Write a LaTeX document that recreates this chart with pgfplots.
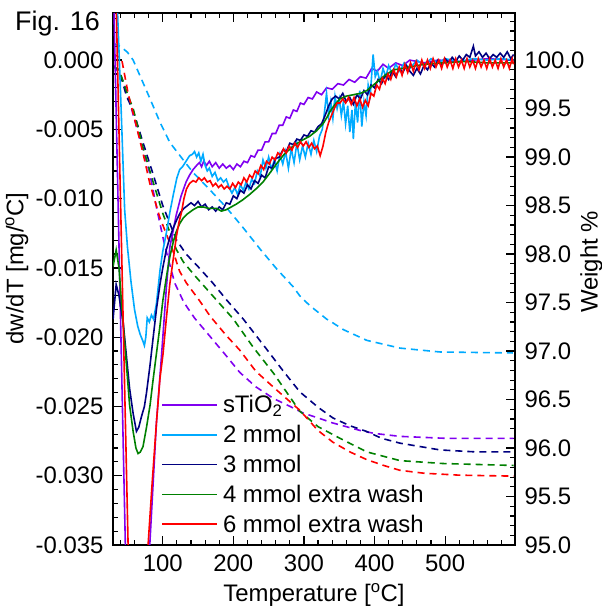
\documentclass[border=0pt]{standalone}
\usepackage{pgfplots}
\pgfplotsset{compat=1.18}
\usepackage{fontspec}
\setmainfont{Liberation Sans}
\newcommand\lf{\fontsize{24}{28}\selectfont}
\definecolor{cpur}{RGB}{128,0,240}
\definecolor{cblu}{RGB}{0,170,255}
\definecolor{cnav}{RGB}{0,0,128}
\definecolor{cgrn}{RGB}{0,128,0}
\definecolor{cred}{RGB}{255,0,0}
\begin{document}
\begin{tikzpicture}
\path[use as bounding box] (0,0) rectangle (602bp,609bp);
\node[anchor=base west, inner sep=0pt, font=\fontsize{27}{32}\selectfont] at (15bp,578bp) {Fig. 16};
% ---------- right axis: weight (dashed) ----------
\begin{axis}[
  at={(113bp,64bp)}, anchor=south west, scale only axis,
  width=402bp, height=532bp,
  xmin=29.5, xmax=599, ymin=95, ymax=100.485,
  scaled x ticks=false, scaled y ticks=false,
  hide x axis, axis y line*=right,
  ytick={95,95.5,96,96.5,97,97.5,98,98.5,99,99.5,100},
  yticklabels={95.0,95.5,96.0,96.5,97.0,97.5,98.0,98.5,99.0,99.5,100.0},
  minor ytick={95.1,95.2,...,100.45},
  tick align=inside, major tick length=9bp, minor tick length=5bp,
  every tick/.style={black, line width=1.2bp},
  axis line style={line width=1.5bp},
  yticklabel style={font=\lf, xshift=6bp},
  ylabel={Weight \%},
  ylabel style={font=\lf, at={(axis description cs:1.19,0.532)}, anchor=center},
  every axis plot/.append style={line width=1.6bp, dash pattern=on 7bp off 5bp},
]
\addplot[cpur] coordinates {(30,99.95)(42,99.82)(53,99.57)(67,99.2)(81,98.85)(92,98.45)(103,98.08)(117,97.7)(130,97.5)(145,97.34)(167,97.15)(190,96.95)(209,96.78)(232,96.63)(257,96.51)(280,96.43)(299,96.36)(320,96.31)(340,96.26)(360,96.22)(380,96.18)(400,96.15)(436,96.12)(500,96.10)(597,96.10)};
\addplot[cblu] coordinates {(30,100.17)(40,100.14)(50,100.08)(58,100.0)(70,99.8)(82,99.6)(96,99.36)(110,99.15)(129,98.97)(143,98.84)(167,98.66)(190,98.48)(214,98.27)(238,98.05)(261,97.85)(285,97.66)(294,97.57)(308,97.47)(332,97.33)(341,97.29)(356,97.22)(389,97.11)(436,97.03)(493,96.99)(596,96.98)};
\addplot[cnav] coordinates {(30,99.93)(38,99.9)(49,99.62)(58,99.48)(72,99.15)(86,98.83)(100,98.5)(119,98.15)(133,98.0)(150,97.87)(171,97.70)(190,97.53)(214,97.33)(247,97.02)(270,96.8)(294,96.58)(320,96.42)(341,96.31)(365,96.23)(389,96.17)(410,96.1)(436,96.05)(493,95.98)(543,95.96)(597,95.96)};
\addplot[cgrn] coordinates {(30,99.93)(38,99.9)(50,99.65)(58,99.5)(72,99.1)(86,98.75)(100,98.42)(119,98.05)(129,97.92)(145,97.78)(167,97.6)(200,97.33)(228,97.04)(257,96.77)(294,96.38)(320,96.22)(351,96.10)(389,95.96)(436,95.87)(497,95.84)(597,95.82)};
\addplot[cred] coordinates {(30,100.06)(41.5,100.02)(50.8,99.66)(60.5,99.38)(72,99.04)(81.6,98.73)(95.7,98.38)(114,98.04)(124,97.82)(133.6,97.70)(152,97.52)(167,97.36)(190,97.16)(209,97.01)(232,96.79)(261,96.60)(294,96.39)(320,96.18)(341,96.06)(365,95.96)(389,95.88)(413,95.82)(436,95.77)(470,95.74)(520,95.72)(597,95.71)};
\end{axis}
% ---------- left axis: dw/dT (solid) ----------
\begin{axis}[
  at={(113bp,64bp)}, anchor=south west, scale only axis,
  width=402bp, height=532bp,
  xmin=29.5, xmax=599, ymin=-0.035, ymax=0.0034,
  scaled x ticks=false, scaled y ticks=false,
  unbounded coords=jump,
  xtick={100,200,300,400,500}, xticklabels={100,200,300,400,500},
  minor xtick={40,60,...,580},
  ytick={-0.035,-0.03,-0.025,-0.02,-0.015,-0.01,-0.005,0},
  yticklabels={-0.035,-0.030,-0.025,-0.020,-0.015,-0.010,-0.005,0.000},
  minor ytick={-0.034,-0.033,...,0.0031},
  ytick pos=left,
  tick align=inside, major tick length=9bp, minor tick length=5bp,
  every tick/.style={black, line width=1.2bp},
  axis line style={line width=1.5bp},
  xticklabel style={font=\lf, yshift=-6bp},
  yticklabel style={font=\lf, xshift=-6bp},
  xlabel={Temperature [\textsuperscript{o}C]},
  xlabel style={font=\lf, at={(axis description cs:0.5,-0.094)}, anchor=center},
  ylabel={dw/dT [mg/\textsuperscript{o}C]},
  ylabel style={font=\lf, at={(axis description cs:-0.239,0.52)}, anchor=center},
  every axis plot/.append style={line width=1.6bp},
  legend style={at={(axis description cs:0.12,0.285)}, anchor=north west,
    draw=none, fill=none, font=\lf, row sep=7bp, inner sep=0pt,
    /tikz/every odd column/.append style={column sep=3bp}},
  legend cell align=left,
]
\addplot[cpur, forget plot] coordinates {(31,0.0034)(47,-0.035)(nan,nan)(81.6,-0.035)(91,-0.0262)(98,-0.0215)(105,-0.0165)(110,-0.0135)(119,-0.0112)(126,-0.0098)(133,-0.0088)(138,-0.0083)(143,-0.0079)(148,-0.0076)(152,-0.0074)(155,-0.0077)(158,-0.0073)(162,-0.0076)(166,-0.0073)(170,-0.0077)(175,-0.0074)(180,-0.0078)(185,-0.0075)(190,-0.0078)(195,-0.0076)(200,-0.0079)(205,-0.0075)(210,-0.0077)(215,-0.0073)(220,-0.0074)(225,-0.0069)(230,-0.0070)(235,-0.0065)(240,-0.0065)(245,-0.0059)(250,-0.0059)(255,-0.0053)(260,-0.0053)(265,-0.0047)(270,-0.0047)(275,-0.0041)(280,-0.0042)(285,-0.0036)(290,-0.0037)(295,-0.0031)(300,-0.0032)(306,-0.0027)(312,-0.0028)(318,-0.0023)(325,-0.0025)(332,-0.0020)(340,-0.0021)(348,-0.0017)(356,-0.0018)(364,-0.0014)(372,-0.0016)(380,-0.0012)(388,-0.0013)(396,-0.0006)(404,-0.0008)(412,-0.0003)(420,-0.0006)(430,-0.0002)(440,-0.0004)(450,0.0000)(470,-0.0002)(490,0.0000)(520,-0.0001)(560,0.0001)(597,0.0000)};
\addplot[cblu, forget plot] coordinates {(36,0.0034)(41,-0.0035)(46,-0.0108)(50,-0.0135)(55,-0.016)(60,-0.018)(64.5,-0.0192)(68,-0.0198)(72,-0.0203)(74,-0.0206)(76,-0.0200)(78,-0.0186)(81,-0.0189)(84,-0.0184)(87,-0.0187)(91,-0.0176)(96,-0.0152)(100,-0.0138)(105,-0.0125)(110,-0.0110)(115,-0.0097)(120,-0.0085)(124,-0.0079)(128,-0.0077)(133,-0.0073)(138,-0.0069)(142,-0.0068)(145,-0.0066)(148,-0.0070)(151,-0.0067)(154,-0.0073)(157,-0.0068)(160,-0.0076)(163,-0.0080)(166,-0.0078)(170,-0.0084)(174,-0.0081)(178,-0.0087)(182,-0.0085)(186,-0.0088)(190,-0.0086)(194,-0.0092)(198,-0.0096)(202,-0.0092)(206,-0.0097)(210,-0.0090)(214,-0.0094)(218,-0.0088)(222,-0.0093)(226,-0.0086)(230,-0.0089)(234,-0.0080)(238,-0.0084)(242,-0.0072)(246,-0.0078)(250,-0.0070)(254,-0.0079)(258,-0.0072)(262,-0.0080)(266,-0.0068)(270,-0.0075)(274,-0.0066)(278,-0.0078)(282,-0.0064)(286,-0.0074)(290,-0.0060)(294,-0.0072)(298,-0.0062)(302,-0.0070)(306,-0.0060)(310,-0.0068)(314,-0.0058)(318,-0.0066)(322,-0.0055)(326,-0.0050)(329,-0.0038)(332,-0.0024)(335,-0.0040)(338,-0.0030)(341,-0.0042)(344,-0.0026)(347,-0.0035)(350,-0.0028)(353,-0.0040)(356,-0.0030)(359,-0.0046)(362,-0.0033)(365,-0.0052)(368,-0.0036)(370,-0.0057)(373,-0.0030)(376,-0.0045)(379,-0.0022)(382,-0.0048)(385,-0.0030)(388,-0.0040)(391,-0.0018)(394,-0.0025)(398,0.0004)(401,-0.0012)(404,-0.0008)(408,-0.0016)(412,-0.0006)(416,-0.0012)(420,-0.0004)(425,-0.0010)(430,-0.0003)(436,-0.0008)(442,-0.0002)(450,-0.0006)(460,0.0000)(470,-0.0004)(480,0.0001)(490,-0.0002)(500,0.0001)(520,-0.0001)(540,0.0001)(560,0.0000)(580,0.0001)(597,0.0000)};
\addplot[cnav, forget plot] coordinates {(29.6,-0.0187)(34,-0.0162)(38,-0.0170)(44,-0.0190)(53,-0.0237)(58,-0.0255)(62.7,-0.0268)(66,-0.0265)(70,-0.0257)(74,-0.0250)(77,-0.0240)(82,-0.0220)(86,-0.0202)(91,-0.0180)(96,-0.0162)(100,-0.0150)(105,-0.0137)(110,-0.0128)(115,-0.0121)(120,-0.0115)(125,-0.0110)(130,-0.0107)(135,-0.0105)(140,-0.0103)(145,-0.0105)(150,-0.0102)(155,-0.0106)(160,-0.0104)(165,-0.0108)(170,-0.0106)(175,-0.0109)(180,-0.0106)(185,-0.0108)(190,-0.0103)(195,-0.0104)(200,-0.0098)(205,-0.0100)(210,-0.0094)(215,-0.0096)(220,-0.0090)(225,-0.0093)(230,-0.0087)(235,-0.0089)(240,-0.0083)(245,-0.0085)(250,-0.0077)(255,-0.0078)(260,-0.0071)(265,-0.0070)(270,-0.0065)(275,-0.0066)(280,-0.0060)(285,-0.0061)(290,-0.0057)(295,-0.0058)(300,-0.0054)(305,-0.0055)(310,-0.0051)(315,-0.0052)(320,-0.0048)(325,-0.0046)(330,-0.0040)(335,-0.0033)(340,-0.0028)(345,-0.0026)(350,-0.0028)(355,-0.0024)(360,-0.0030)(365,-0.0027)(370,-0.0032)(375,-0.0025)(380,-0.0028)(385,-0.0022)(390,-0.0025)(395,-0.0018)(400,-0.0020)(405,-0.0014)(410,-0.0017)(415,-0.0011)(420,-0.0014)(425,-0.0008)(430,-0.0012)(435,-0.0006)(440,-0.0009)(445,-0.0004)(450,-0.0008)(455,-0.0011)(460,-0.0006)(465,-0.0010)(470,-0.0004)(475,-0.0007)(480,-0.0002)(485,-0.0005)(490,0.0000)(495,-0.0004)(500,0.0001)(505,-0.0002)(510,0.0002)(515,-0.0001)(520,0.0003)(525,0.0000)(530,0.0004)(535,0.0002)(540,0.0010)(543,0.0003)(548,0.0006)(553,0.0002)(558,0.0005)(563,0.0001)(568,0.0004)(573,0.0002)(578,0.0005)(583,0.0002)(588,0.0006)(593,0.0001)(597,0.0004)};
\addplot[cgrn, forget plot] coordinates {(29.6,-0.0149)(34,-0.0137)(38,-0.0150)(41.4,-0.0174)(47,-0.0210)(53,-0.0249)(58,-0.0268)(62,-0.0280)(65,-0.0284)(68,-0.0283)(72,-0.0279)(77,-0.0265)(82,-0.0249)(86,-0.0232)(91,-0.0212)(96,-0.0192)(100,-0.0174)(105,-0.0157)(110,-0.0142)(115,-0.0131)(119,-0.0124)(124,-0.0118)(129,-0.0114)(135,-0.0111)(143,-0.0108)(150,-0.0106)(157,-0.0106)(165,-0.0107)(176,-0.0107)(183,-0.0109)(190,-0.0108)(197,-0.0106)(204,-0.0104)(213,-0.0101)(223,-0.0097)(232,-0.0093)(242,-0.0088)(251,-0.0082)(261,-0.0075)(272,-0.0068)(285,-0.0062)(297,-0.0058)(308,-0.0055)(318,-0.0051)(327,-0.0046)(333,-0.0041)(337,-0.0037)(344,-0.0032)(351,-0.0028)(360,-0.0026)(370,-0.0025)(380,-0.0024)(389,-0.0022)(396,-0.0019)(403,-0.0016)(415,-0.0011)(427,-0.0007)(440,-0.0006)(450,-0.0005)(470,-0.0003)(497,-0.0002)(530,-0.0001)(560,-0.0002)(597,-0.0002)};
\addplot[cred, forget plot] coordinates {(34.3,0.0034)(50.9,-0.035)(nan,nan)(79.2,-0.035)(85,-0.0305)(91,-0.0262)(96,-0.0230)(100.4,-0.0212)(105,-0.0187)(109.9,-0.0162)(115,-0.0143)(119.4,-0.0127)(123,-0.0117)(126.5,-0.0110)(130,-0.0100)(133.6,-0.0093)(138,-0.0089)(143,-0.0087)(147,-0.0088)(151,-0.0085)(155,-0.0087)(159,-0.0085)(163,-0.0088)(167,-0.0087)(171,-0.0091)(175,-0.0089)(179,-0.0092)(183,-0.0090)(187,-0.0093)(191,-0.0091)(195,-0.0093)(199,-0.0089)(203,-0.0092)(207,-0.0088)(211,-0.0090)(215,-0.0085)(219,-0.0088)(223,-0.0083)(227,-0.0085)(231,-0.0080)(235,-0.0082)(239,-0.0076)(243,-0.0079)(247,-0.0073)(251,-0.0075)(255,-0.0070)(259,-0.0072)(263,-0.0067)(267,-0.0069)(271,-0.0064)(275,-0.0067)(279,-0.0062)(283,-0.0065)(287,-0.0060)(291,-0.0063)(295,-0.0059)(299,-0.0062)(303,-0.0059)(307,-0.0063)(311,-0.0060)(315,-0.0064)(319,-0.0062)(323,-0.0069)(327,-0.0062)(331,-0.0052)(335,-0.0045)(339,-0.0040)(343,-0.0035)(347,-0.0031)(351,-0.0031)(355,-0.0028)(359,-0.0031)(363,-0.0027)(367,-0.0032)(371,-0.0027)(375,-0.0033)(379,-0.0028)(383,-0.0034)(387,-0.0029)(391,-0.0033)(395,-0.0024)(399,-0.0026)(403,-0.0018)(407,-0.0021)(411,-0.0013)(415,-0.0017)(419,-0.0010)(423,-0.0014)(427,-0.0007)(431,-0.0012)(435,-0.0005)(439,-0.0011)(443,-0.0003)(447,-0.0009)(451,-0.0002)(455,-0.0008)(459,-0.0001)(463,-0.0007)(467,0.0000)(471,-0.0006)(475,0.0000)(479,-0.0006)(483,0.0001)(487,-0.0005)(491,0.0000)(495,-0.0006)(499,0.0001)(503,-0.0005)(507,0.0000)(511,-0.0006)(515,0.0001)(519,-0.0005)(523,0.0000)(527,-0.0006)(531,0.0001)(535,-0.0005)(539,0.0000)(543,-0.0006)(547,0.0001)(551,-0.0005)(555,0.0000)(559,-0.0006)(563,0.0001)(567,-0.0005)(571,0.0000)(575,-0.0006)(579,0.0001)(583,-0.0005)(587,0.0000)(591,-0.0006)(595,0.0001)(597,-0.0003)};
\addlegendimage{legend image code/.code={\draw[draw=cpur,line width=1.6bp] (0bp,0bp) -- (55bp,0bp);}}
\addlegendentry{sTiO\textsubscript{2}}
\addlegendimage{legend image code/.code={\draw[draw=cblu,line width=1.6bp] (0bp,0bp) -- (55bp,0bp);}}
\addlegendentry{2 mmol}
\addlegendimage{legend image code/.code={\draw[draw=cnav,line width=1.6bp] (0bp,0bp) -- (55bp,0bp);}}
\addlegendentry{3 mmol}
\addlegendimage{legend image code/.code={\draw[draw=cgrn,line width=1.6bp] (0bp,0bp) -- (55bp,0bp);}}
\addlegendentry{4 mmol extra wash}
\addlegendimage{legend image code/.code={\draw[draw=cred,line width=1.6bp] (0bp,0bp) -- (55bp,0bp);}}
\addlegendentry{6 mmol extra wash}
\end{axis}
\end{tikzpicture}
\end{document}
